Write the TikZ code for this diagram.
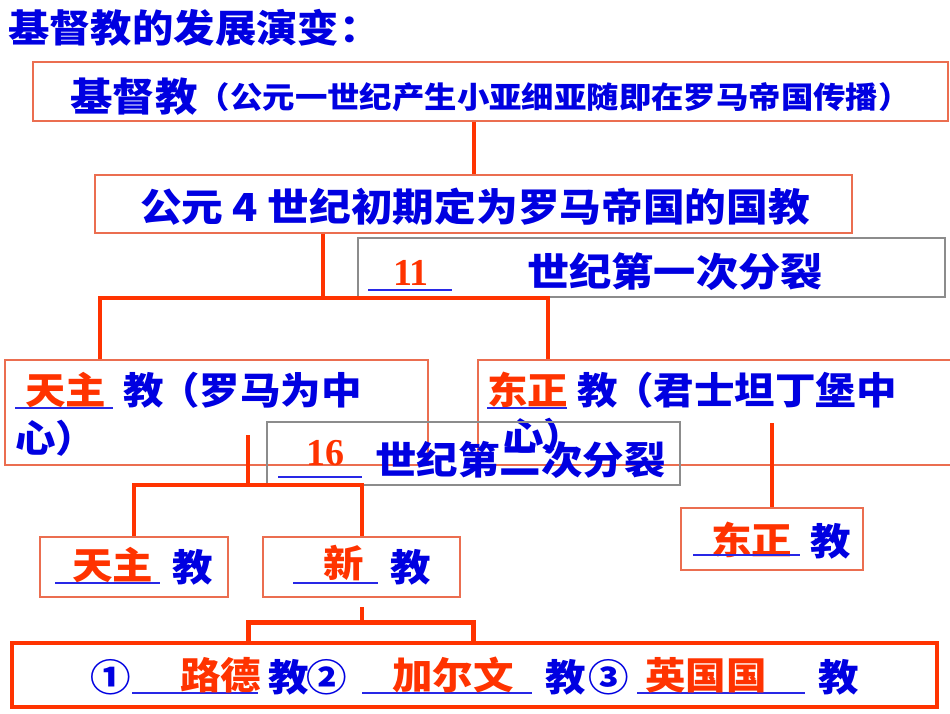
\documentclass[tikz,border=0pt]{standalone}
\usepackage{fontspec}
\setmainfont{Noto Sans CJK SC}[FakeStretch=1.08]
\newfontfamily\numfont{Liberation Serif}
\definecolor{tblue}{RGB}{0,0,225}
\definecolor{ublue}{RGB}{40,40,230}
\definecolor{tred}{RGB}{255,51,0}
\definecolor{bred}{RGB}{235,110,80}
\definecolor{bgray}{RGB}{140,140,140}
\newcommand{\fs}[1]{\bfseries\fontsize{#1}{#1}\selectfont}
\begin{document}
\begin{tikzpicture}[x=1pt,y=-1pt,
  box/.style={draw=bred, line width=1.2pt, fill=white, inner sep=0},
  gbox/.style={draw=bgray, line width=1.2pt, inner sep=0},
  link/.style={draw=tred, line width=4pt},
  txt/.style={anchor=west, inner sep=0, text=tblue, font=\fs{37.5}},
  rtxt/.style={txt, text=tred},
  num/.style={anchor=center, inner sep=0, text=tred, font=\numfont\bfseries\fontsize{38}{38}\selectfont},
  ul/.style={draw=ublue, line width=2.8pt}]
\useasboundingbox[fill=white] (0,0) rectangle (950,713);

% title
\node[txt, font=\fs{38.3}] (title) at (8,28) {基督教的发展演变：};

% top boxes
\node[box, minimum width=915, minimum height=59] (b1) at (490.5,91.5) {};
\node[txt, font=\fs{39.3}] (t1a) at (70,97) {基督教};
\node[txt, font=\fs{30}] (t1b) at (t1a.east) {（公元一世纪产生小亚细亚随即在罗马帝国传播）};

\node[box, minimum width=757, minimum height=58] (b2) at (473.5,204) {};
\node[txt, anchor=center, font=\fs{38.6}] (t2) at (475,207) {公元 4 世纪初期定为罗马帝国的国教};
\draw[link] (b2.north |- b1.south) -- (b2.north);

\node[gbox, fill=white, minimum width=587, minimum height=59] (b3) at (651.5,267.5) {};
\node[num] (n11) at (411,273) {11};
\draw[ul] (368,290) -- (452,290);
\node[txt, font=\fs{39.1}] (t3) at (527,272) {世纪第一次分裂};

% first split
\coordinate (s1) at (323,298);
\coordinate (s1L) at (100,298);
\coordinate (s1R) at (548,298);
\draw[link] (s1 |- b2.south) -- (s1);

\node[box, minimum width=423, minimum height=105] (b4) at (216.5,412.5) {};
\node[box, minimum width=477, minimum height=105] (b5) at (716.5,412.5) {};
\draw[link] (b4.north -| s1L) -- (s1L) -- (s1R) -- (b5.north -| s1R);

\node[rtxt] (t4a) at (25,390) {天主};
\draw[ul] (15,408) -- (113,408);
\node[txt] (t4b) at (123,390) {教};
\node[txt] (t4c) at (159,390) {（罗马为中};
\node[txt] (t4d) at (15,438) {心）};

\node[rtxt] (t5a) at (487,390) {东正};
\draw[ul] (487,408) -- (567,408);
\node[txt] (t5b) at (577,390) {教};
\node[txt] (t5c) at (613,390) {（君士坦丁堡中};
\node[txt] (t5d) at (503,436) {心）};

% second split
\node[gbox, minimum width=413, minimum height=63] (b6) at (473.5,453.5) {};
\node[num] (n16) at (325,453) {16};
\draw[ul] (278,477) -- (362,477);
\node[txt, font=\fs{38.4}] (t6) at (375,460) {世纪第二次分裂};

\node[box, minimum width=188, minimum height=60] (b7) at (134,567) {};
\node[box, minimum width=197, minimum height=60] (b8) at (361.5,567) {};
\node[box, minimum width=182, minimum height=62] (b9) at (772,539) {};

\coordinate (s2top) at (248,435);
\coordinate (s2) at (248,485);
\draw[link] (s2top) -- (s2);
\draw[link] (b7.north) |- (s2) -| (b8.north);

\coordinate (s3) at (772,423);
\draw[link] (s3) -- (b9.north);

\node[rtxt] (t7a) at (72,565) {天主};
\draw[ul] (55,583) -- (160,583);
\node[txt] (t7b) at (172,567) {教};

\node[rtxt] (t8a) at (323,563) {新};
\draw[ul] (293,583) -- (378,583);
\node[txt] (t8b) at (390,567) {教};

\node[rtxt] (t9a) at (711,540) {东正};
\draw[ul] (693,555) -- (800,555);
\node[txt] (t9b) at (810,541) {教};

% third split
\coordinate (s4top) at (362,607);
\coordinate (s4) at (362,622);
\coordinate (s4L) at (248,622);
\coordinate (s4R) at (473,622);
\coordinate (l1) at (248,641);
\coordinate (l2) at (473,641);
\draw[link] (s4top) -- (s4);
\draw[link, line width=5pt] (l1) -- (s4L) -- (s4R) -- (l2);

\node[draw=tred, line width=4pt, inner sep=0, minimum width=925, minimum height=64] (b10) at (474.5,675) {};
\node[txt] (c1) at (90,677) {①};
\draw[ul] (132,693) -- (258,693);
\node[rtxt] (r1) at (180,675) {路德};
\node[txt] (j1) at (268,677) {教};
\node[txt] (c2) at (306,677) {②};
\draw[ul] (362,693) -- (532,693);
\node[rtxt] (r2) at (392,675) {加尔文};
\node[txt] (j2) at (545,677) {教};
\node[txt] (c3) at (588,677) {③};
\draw[ul] (637,693) -- (805,693);
\node[rtxt] (r3) at (645,675) {英国国};
\node[txt] (j3) at (818,677) {教};
\end{tikzpicture}
\end{document}
